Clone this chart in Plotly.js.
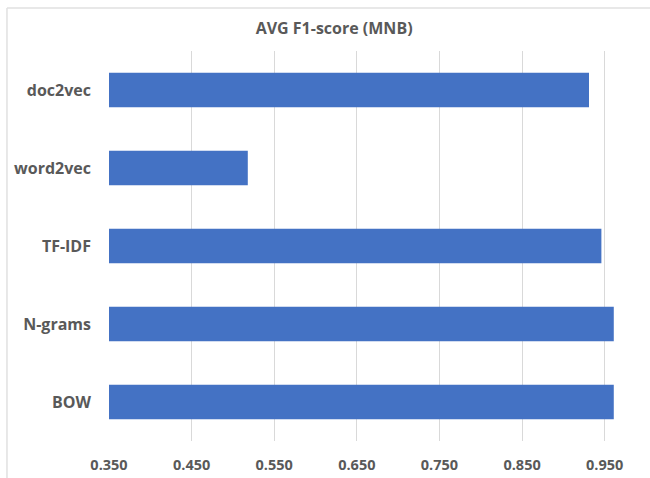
<!DOCTYPE html>
<html>
<head>
<meta charset="utf-8">
<script src="https://cdn.plot.ly/plotly-3.0.1.min.js"></script>
<style>html,body{margin:0;padding:0;background:#fff;}#chart{width:650px;height:478px;}</style>
</head>
<body>
<div id="chart"></div>
<script>
const categories = ['BOW', 'N-grams', 'TF-IDF', 'word2vec', 'doc2vec'];
const f1Scores = [0.961, 0.961, 0.946, 0.518, 0.931];
const tickValues = [0.35, 0.45, 0.55, 0.65, 0.75, 0.85, 0.95];
const tickLabels = ['0.350', '0.450', '0.550', '0.650', '0.750', '0.850', '0.950'];
const chartTitle = 'AVG F1-score (MNB)';

const fontFam = '"Open Sans", "Liberation Sans", sans-serif';
const trace = {
  type: 'bar',
  orientation: 'h',
  y: categories,
  x: f1Scores,
  base: 0,
  marker: {color: '#4472C4'},
  hoverinfo: 'x+y'
};
const layout = {
  width: 650, height: 478,
  margin: {l: 109, r: 4, t: 51, b: 37},
  paper_bgcolor: '#ffffff',
  plot_bgcolor: '#ffffff',
  bargap: 0.56,
  showlegend: false,
  title: {text: chartTitle, x: 0.514, xanchor: 'center', y: 0.94, yanchor: 'middle',
          font: {family: fontFam, size: 16, color: '#595959', weight: 'bold'}},
  xaxis: {
    range: [0.35, 1.0],
    tickvals: tickValues, ticktext: tickLabels,
    showgrid: true, gridcolor: '#d9d9d9', gridwidth: 1,
    zeroline: false, showline: false,
    ticks: '', ticklabelstandoff: 13,
    tickfont: {family: fontFam, size: 14.5, color: '#595959', weight: 'bold'}
  },
  yaxis: {
    type: 'category',
    showgrid: false, zeroline: false, showline: false,
    ticks: '', ticklabelstandoff: 17,
    tickfont: {family: fontFam, size: 16, color: '#595959', weight: 'bold'}
  },
  shapes: [
    {type: 'line', xref: 'paper', yref: 'paper', x0: -0.19, x1: -0.19, y0: -0.2, y1: 1.11,
     line: {color: '#e0e0e0', width: 1.5}},
    {type: 'line', xref: 'paper', yref: 'paper', x0: -0.19, x1: 1.01, y0: 1.11, y1: 1.11,
     line: {color: '#e0e0e0', width: 1.5}}
  ]
};
Plotly.newPlot('chart', [trace], layout, {displayModeBar: false, staticPlot: true});
</script>
</body>
</html>
